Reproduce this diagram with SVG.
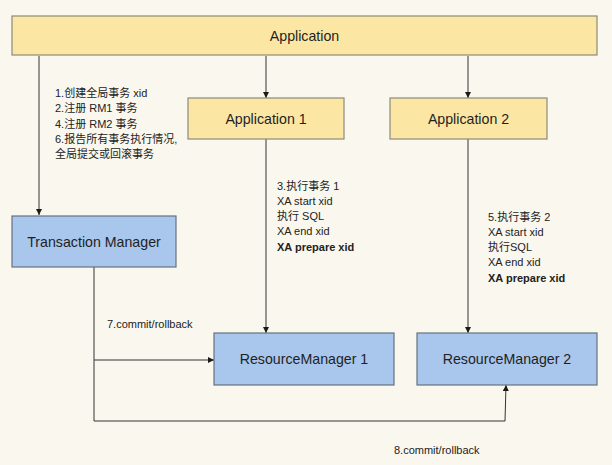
<svg xmlns="http://www.w3.org/2000/svg" width="612" height="465" viewBox="0 0 612 465">
<defs>
<marker id="ah" viewBox="0 0 10 10" refX="10" refY="5" markerWidth="6" markerHeight="6" markerUnits="userSpaceOnUse" orient="auto">
<path d="M0,0 L10,5 L0,10 z" fill="#1a1a1a"/>
</marker>
<style>
.y{fill:#fce6a4;stroke:#8c8a7c;stroke-width:1.2}
.b{fill:#a9c6ec;stroke:#66727f;stroke-width:1.2}
.t{font-family:"Liberation Sans","Noto Sans CJK SC",sans-serif;fill:#1f1f1f;text-anchor:middle;dominant-baseline:central}
.n{font-size:14.2px}
.s{font-family:"Liberation Sans","Noto Sans CJK SC",sans-serif;font-size:11px;fill:#222}
.bd{font-weight:bold}
.c{fill:none;stroke:#333;stroke-width:1}
</style>
</defs>
<rect width="612" height="465" fill="#faf8ee"/>
<g id="connectors">
<path class="c" d="M39,56 V215" marker-end="url(#ah)"/>
<path class="c" d="M266,56 V98" marker-end="url(#ah)"/>
<path class="c" d="M468,56 V98" marker-end="url(#ah)"/>
<path class="c" d="M266,139 V333" marker-end="url(#ah)"/>
<path class="c" d="M468,139 V333" marker-end="url(#ah)"/>
<path class="c" d="M94,267 V360 H214" marker-end="url(#ah)"/>
<path class="c" d="M94,360 V421 H505 L506,385" marker-end="url(#ah)"/>
</g>
<g id="application">
<rect class="y" x="12" y="16" width="585" height="39"/>
<text class="t n" x="304.5" y="36">Application</text>
</g>
<g id="application1">
<rect class="y" x="188" y="98" width="156" height="41"/>
<text class="t n" x="266" y="119">Application 1</text>
</g>
<g id="application2">
<rect class="y" x="390" y="98" width="157" height="41"/>
<text class="t n" x="468.5" y="119">Application 2</text>
</g>
<g id="transaction-manager">
<rect class="b" x="12" y="216" width="164" height="51"/>
<text class="t n" x="94" y="242">Transaction Manager</text>
</g>
<g id="resource-manager-1">
<rect class="b" x="214" y="333" width="180" height="52"/>
<text class="t n" x="304" y="359">ResourceManager 1</text>
</g>
<g id="resource-manager-2">
<rect class="b" x="417" y="333" width="180" height="52"/>
<text class="t n" x="507" y="359">ResourceManager 2</text>
</g>
<g id="labels">
<text class="s" x="55" y="97">1.创建全局事务 xid</text>
<text class="s" x="55" y="112">2.注册 RM1 事务</text>
<text class="s" x="55" y="128">4.注册 RM2 事务</text>
<text class="s" x="55" y="143">6.报告所有事务执行情况,</text>
<text class="s" x="55" y="158">全局提交或回滚事务</text>
<text class="s" x="277" y="190">3.执行事务 1</text>
<text class="s" x="277" y="205">XA start xid</text>
<text class="s" x="277" y="220">执行 SQL</text>
<text class="s" x="277" y="235">XA end xid</text>
<text class="s bd" x="277" y="251">XA prepare xid</text>
<text class="s" x="488" y="221">5.执行事务 2</text>
<text class="s" x="488" y="236">XA start xid</text>
<text class="s" x="488" y="251">执行SQL</text>
<text class="s" x="488" y="266">XA end xid</text>
<text class="s bd" x="488" y="282">XA prepare xid</text>
<text class="s" x="107" y="328">7.commit/rollback</text>
<text class="s" x="394" y="454">8.commit/rollback</text>
</g>
</svg>
